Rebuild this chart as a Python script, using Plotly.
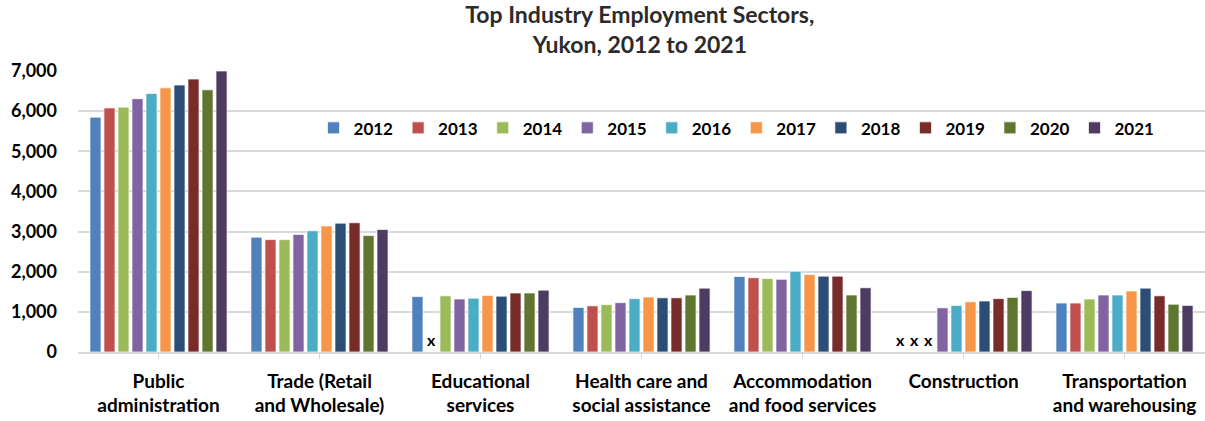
import plotly.graph_objects as go

categories = ["Public<br>administration", "Trade (Retail<br>and Wholesale)", "Educational<br>services",
              "Health care and<br>social assistance", "Accommodation<br>and food services",
              "Construction", "Transportation<br>and warehousing"]
years = ["2012", "2013", "2014", "2015", "2016", "2017", "2018", "2019", "2020", "2021"]
colors = ["#4F81BD", "#C0504D", "#9BBB59", "#8064A2", "#4BACC6", "#F79646",
          "#2C4D75", "#772C2A", "#5F7530", "#4D3B62"]

# values per year, order of categories; None = suppressed ("x")
v2012 = [5850, 2860, 1380, 1110, 1880, None, 1220]
v2013 = [6080, 2800, None, 1150, 1850, None, 1220]
v2014 = [6100, 2800, 1400, 1180, 1830, None, 1320]
v2015 = [6310, 2930, 1320, 1230, 1810, 1100, 1420]
v2016 = [6440, 3020, 1340, 1330, 2010, 1160, 1420]
v2017 = [6580, 3140, 1410, 1370, 1930, 1250, 1520]
v2018 = [6650, 3210, 1390, 1350, 1890, 1270, 1590]
v2019 = [6800, 3220, 1470, 1350, 1890, 1330, 1400]
v2020 = [6530, 2900, 1470, 1420, 1420, 1360, 1190]
v2021 = [7000, 3050, 1540, 1590, 1600, 1530, 1160]
series = [v2012, v2013, v2014, v2015, v2016, v2017, v2018, v2019, v2020, v2021]

FONT = "Lato, Carlito, Calibri, Noto Sans, sans-serif"

fig = go.Figure()
for yr, col, vals in zip(years, colors, series):
    fig.add_trace(go.Bar(
        name=yr, x=categories,
        y=[0 if v is None else v for v in vals],
        text=["x" if v is None else "" for v in vals],
        textposition="outside", cliponaxis=False,
        textfont=dict(size=16, color="#000000", family=FONT, weight="bold"),
        marker=dict(color=col, line=dict(color="rgba(255,255,255,0.7)", width=1)),
    ))

fig.update_layout(
    width=1205, height=421,
    margin=dict(l=78, r=0, t=71, b=69),
    paper_bgcolor="white", plot_bgcolor="white",
    barmode="group", bargap=0.13, bargroupgap=0.21,
    font=dict(family=FONT, color="#000000"),
    title=dict(text="Top Industry Employment Sectors,<br>Yukon, 2012 to 2021",
               x=0.531, xanchor="center", y=0.945, yanchor="top",
               font=dict(size=23, color="#2B2B2B", family=FONT, weight="bold")),
    legend=dict(orientation="h", x=0.209, xanchor="left", y=0.796, yanchor="middle",
                font=dict(size=17, color="#000000", family=FONT, weight="bold"),
                bgcolor="rgba(0,0,0,0)", itemclick=False, traceorder="normal"),
    showlegend=True,
)
fig.update_xaxes(type="category", showgrid=False, showline=True, linecolor="#D9D9D9", linewidth=1.5,
                 ticks="outside", tickcolor="#D9D9D9", ticklen=5, ticklabelstandoff=6,
                 tickfont=dict(size=19, color="#000000", family=FONT, weight="bold"))
fig.update_yaxes(range=[0, 7000], dtick=1000, tickformat=",d", showgrid=True, gridcolor="#D9D9D9",
                 gridwidth=1.5, showline=False, zeroline=False, ticks="", ticklabelstandoff=20,
                 tickfont=dict(size=18, color="#000000", family=FONT, weight="bold"))

fig.write_html("out.html", config={"displayModeBar": False},
               post_script="document.body.style.margin='0';")
